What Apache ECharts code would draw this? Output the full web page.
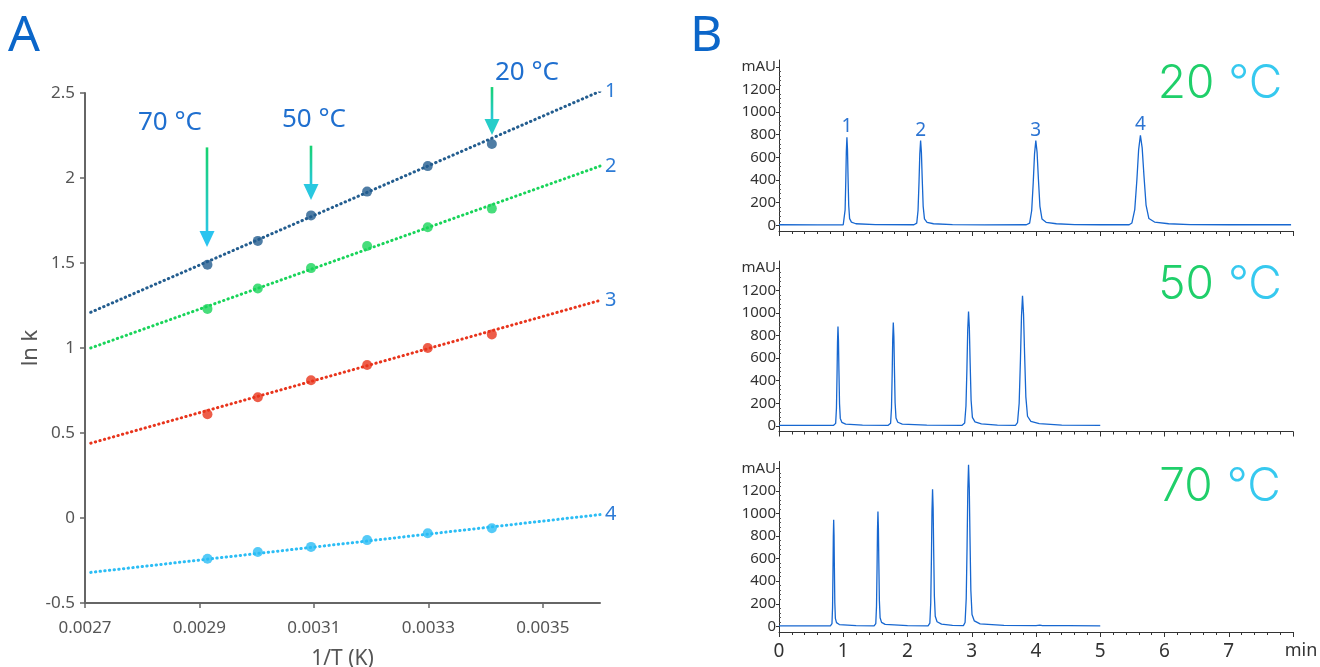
<!DOCTYPE html>
<html><head><meta charset="utf-8">
<script src="https://cdn.jsdelivr.net/npm/echarts@6/dist/echarts.min.js"></script>
<style>html,body{margin:0;padding:0;background:#fff}#c{width:1320px;height:667px}</style>
</head><body><div id="c"></div>
<script>
// ---------- Panel A data: ln k vs 1/T ----------
const invT = [0.002914, 0.003002, 0.003095, 0.003193, 0.003299, 0.003411];
const lnk1 = [1.49, 1.63, 1.78, 1.92, 2.07, 2.20];
const lnk2 = [1.23, 1.35, 1.47, 1.60, 1.71, 1.82];
const lnk3 = [0.61, 0.71, 0.81, 0.90, 1.00, 1.08];
const lnk4 = [-0.24, -0.20, -0.17, -0.13, -0.09, -0.06];
const fitX = [0.00271, 0.0036];
const fit1 = [1.21, 2.51];
const fit2 = [1.00, 2.07];
const fit3 = [0.44, 1.28];
const fit4 = [-0.32, 0.02];
const xTicksA = [0.0027, 0.0029, 0.0031, 0.0033, 0.0035];
const compoundNames = ['1', '2', '3', '4'];
const arrowText = ['70 °C', '50 °C', '20 °C'];
const arrowX = [0.002914, 0.003095, 0.003411];
const arrowTop = [2.18, 2.19, 2.535];
const arrowTip = [1.594, 1.87, 2.253];

// ---------- Panel B data: chromatograms [min, mAU] ----------
const tempLabels = ['20', '50', '70'];
const trace20 = [
 [0,5],[0.6,4],[1.0,5],
 [1.015,20],[1.029,136],[1.0395,392],[1.048,654],[1.057,778],[1.066,670],[1.0745,430],[1.085,175],[1.099,59],[1.127,28],[1.197,14],
 [1.5,6],[2.1,5],
 [2.144,20],[2.164,131],[2.179,377],[2.1915,629],[2.204,748],[2.2165,644],[2.229,414],[2.244,168],[2.264,57],[2.304,27],[2.404,14],
 [2.7,6],[3.2,4],[3.85,5],
 [3.901,20],[3.933,131],[3.957,377],[3.977,629],[3.997,748],[4.017,644],[4.037,414],[4.061,168],[4.093,57],[4.157,27],[4.317,14],
 [4.6,6],[5.0,5],[5.45,5],
 [5.493,21],[5.537,139],[5.570,400],[5.5975,669],[5.625,795],[5.6525,684],[5.680,440],[5.713,179],[5.757,60],[5.845,29],[6.065,14],
 [6.4,6],[7.0,5],[7.97,5]
];
const trace50 = [
 [0,5],[0.5,5],[0.85,5],
 [0.882,22],[0.894,154],[0.903,442],[0.9105,739],[0.918,879],[0.9255,757],[0.933,486],[0.942,197],[0.954,66],[0.978,31],[1.038,15],
 [1.3,6],[1.7,5],
 [1.737,23],[1.751,160],[1.7615,460],[1.770,769],[1.779,915],[1.788,788],[1.7965,506],[1.807,205],[1.821,69],[1.849,32],[1.919,16],
 [2.3,6],[2.85,5],
 [2.89,25],[2.91,176],[2.925,509],[2.9375,851],[2.95,1012],[2.9625,871],[2.975,559],[2.99,227],[3.01,75],[3.05,35],[3.15,17],
 [3.4,6],[3.68,5],
 [3.712,28],[3.738,200],[3.7575,578],[3.774,968],[3.79,1151],[3.806,991],[3.8225,635],[3.842,257],[3.868,85],[3.92,39],[4.05,19],
 [4.4,6],[5.0,5]
];
const trace70 = [
 [0,5],[0.5,5],[0.8,5],
 [0.8246,24],[0.8334,164],[0.840,474],[0.8455,793],[0.851,943],[0.8565,812],[0.862,521],[0.8686,211],[0.8774,71],[0.895,33],[0.939,16],
 [1.2,6],[1.48,5],
 [1.5064,25],[1.5176,177],[1.526,511],[1.533,854],[1.54,1016],[1.547,874],[1.554,561],[1.5624,227],[1.5736,76],[1.596,35],[1.652,17],
 [2.0,6],[2.32,5],
 [2.348,29],[2.362,211],[2.3725,610],[2.381,1021],[2.39,1215],[2.399,1046],[2.4075,671],[2.418,271],[2.432,90],[2.46,41],[2.53,20],
 [2.7,8],[2.87,7],
 [2.896,34],[2.914,247],[2.9275,718],[2.93875,1202],[2.95,1430],[2.96125,1231],[2.9725,789],[2.986,319],[3.004,105],[3.04,48],[3.13,22],
 [3.5,9],[4.0,7],[4.06,10],[4.1,7],[4.5,6],[5.0,5]
];
const peakLabelT = [1.057, 2.204, 3.997, 5.625];
const peakLabelH = [778, 748, 748, 795];
const mauTicks = [0, 200, 400, 600, 800, 1000, 1200, 1400];

// ---------- styles ----------
const colA = ['#235d8f', '#19d45a', '#e8341c', '#2bbdf5'];
const font = "'Noto Sans', 'Open Sans', sans-serif";
const blue = '#1f6fcf';

const chart = echarts.init(document.getElementById('c'), null, {renderer: 'canvas'});

const lnks = [lnk1, lnk2, lnk3, lnk4];
const fits = [fit1, fit2, fit3, fit4];
const traces = [trace20, trace50, trace70];

const minorVals = [];
for (let v = 0; v <= 1400; v += 40) if (v % 200 !== 0) minorVals.push(v);

const grids = [
  {left: 85, top: 93, width: 515, height: 510, outerBoundsMode: 'none', containLabel: false},
  {left: 779, top: 60, width: 514, height: 171, outerBoundsMode: 'none', containLabel: false},
  {left: 779, top: 261, width: 514, height: 170.5, outerBoundsMode: 'none', containLabel: false},
  {left: 779, top: 461.5, width: 514, height: 170.5, outerBoundsMode: 'none', containLabel: false}
];

const xAxes = [{
  gridIndex: 0, type: 'value', min: 0.0027, max: 0.0036,
  name: '1/T (K)', nameLocation: 'middle', nameGap: 46,
  nameTextStyle: {fontSize: 21, color: '#555', fontFamily: font},
  axisLine: {onZero: false, lineStyle: {color: '#666', width: 2}},
  axisTick: {customValues: xTicksA, length: 5, lineStyle: {color: '#666', width: 1.5}},
  axisLabel: {customValues: xTicksA, formatter: v => v.toFixed(4), fontSize: 17, color: '#555', fontFamily: font, margin: 17},
  splitLine: {show: false}
}];
const yAxes = [{
  gridIndex: 0, type: 'value', min: -0.5, max: 2.5, interval: 0.5,
  name: 'ln k', nameLocation: 'middle', nameGap: 36, nameRotate: 90,
  nameTextStyle: {fontSize: 22, color: '#555', fontFamily: font},
  axisLine: {show: true, onZero: false, lineStyle: {color: '#666', width: 2}},
  axisTick: {show: true, length: 5, lineStyle: {color: '#666', width: 1.5}},
  axisLabel: {fontSize: 17, color: '#555', fontFamily: font, margin: 10},
  splitLine: {show: false}
}];
for (let g = 1; g <= 3; g++) {
  xAxes.push({
    gridIndex: g, type: 'value', min: 0, max: 8, interval: 1,
    axisLine: {onZero: false, lineStyle: {color: '#333', width: 1}},
    axisTick: {length: 5, lineStyle: {color: '#333'}},
    minorTick: {show: true, splitNumber: 5, length: 3, lineStyle: {color: '#333'}},
    axisLabel: {show: g === 3, fontSize: 19, color: '#333', fontFamily: font, margin: 10,
      formatter: v => v === 8 ? '{m|min}' : String(v),
      rich: {m: {fontSize: 18, color: '#333', fontFamily: font, padding: [0, 0, 0, 16]}}},
    splitLine: {show: false}
  });
  yAxes.push({
    gridIndex: g, type: 'value', min: -50, max: 1460,
    axisLine: {show: true, onZero: false, lineStyle: {color: '#333', width: 1}},
    axisTick: {show: true, customValues: mauTicks, length: 3, lineStyle: {color: '#333'}},
    axisLabel: {customValues: mauTicks, formatter: v => v === 1400 ? 'mAU' : String(v),
      fontSize: 15, color: '#333', fontFamily: font, margin: 3},
    splitLine: {show: false}
  });
}
for (let g = 1; g <= 3; g++) {
  yAxes.push({
    gridIndex: g, type: 'value', min: -50, max: 1460,
    axisLine: {show: false}, axisLabel: {show: false}, splitLine: {show: false},
    axisTick: {show: true, customValues: minorVals, length: 2, lineStyle: {color: '#555'}}
  });
}

const series = [];
for (let i = 0; i < 4; i++) {
  series.push({
    type: 'line', xAxisIndex: 0, yAxisIndex: 0, symbol: 'none', silent: true,
    data: fitX.map((x, k) => [x, fits[i][k]]),
    lineStyle: {color: colA[i], width: 3, type: [0.4, 4.3], cap: 'round'},
    endLabel: {show: true, formatter: compoundNames[i], color: '#2d7bd6', fontSize: 20, fontFamily: font, distance: 5},
    z: 2
  });
  series.push({
    type: 'scatter', xAxisIndex: 0, yAxisIndex: 0, symbol: 'circle', symbolSize: 10,
    data: invT.map((x, k) => [x, lnks[i][k]]),
    itemStyle: {color: colA[i]}, z: 3
  });
}
traces.forEach((tr, j) => {
  const s = {
    type: 'line', xAxisIndex: j + 1, yAxisIndex: j + 1, symbol: 'none',
    data: tr, lineStyle: {color: '#1767d0', width: 1.3}, z: 2
  };
  if (j === 0) {
    s.markPoint = {
      symbol: 'circle', symbolSize: 0, silent: true,
      label: {show: true, position: 'top', distance: 1, color: '#2c74d2', fontSize: 19, fontFamily: font,
        formatter: p => p.name},
      data: peakLabelT.map((t, k) => ({name: compoundNames[k], coord: [t, peakLabelH[k]]}))
    };
  }
  series.push(s);
});

const bigFont = "Inter, 'Open Sans', sans-serif";
const graphic = [
  {type: 'text', left: 8, top: 12, style: {text: 'A', fontSize: 50, fill: '#0b66c9', fontFamily: font}},
  {type: 'text', left: 690, top: 12, style: {text: 'B', fontSize: 50, fill: '#0b66c9', fontFamily: font}}
];
const tempY = [84, 285, 487];
tempLabels.forEach((t, j) => {
  graphic.push({
    type: 'text', x: 1220, y: tempY[j],
    style: {
      text: '{g|' + t + '}{s|}{c|°C}', align: 'center', verticalAlign: 'middle',
      rich: {
        g: {fontSize: 46, fill: '#1fcf6a', fontFamily: bigFont, fontWeight: 300},
        s: {width: 14},
        c: {fontSize: 46, fill: '#36c9ef', fontFamily: bigFont, fontWeight: 300}
      }
    }
  });
});

chart.setOption({
  animation: false,
  backgroundColor: '#fff',
  grid: grids,
  xAxis: xAxes,
  yAxis: yAxes,
  series: series,
  graphic: graphic
});

// arrows + annotation labels positioned through the chart's own scales
const textOffset = [[-37, -25], [3, -26], [35, -14]];
const extra = [];
arrowX.forEach((x, i) => {
  const pTop = chart.convertToPixel({gridIndex: 0}, [x, arrowTop[i]]);
  const pTip = chart.convertToPixel({gridIndex: 0}, [x, arrowTip[i]]);
  const px = Math.round(pTop[0]);
  extra.push({
    type: 'line', silent: true,
    shape: {x1: px, y1: pTop[1], x2: px, y2: pTip[1] - 14},
    style: {lineWidth: 2.6, stroke: new echarts.graphic.LinearGradient(0, 0, 0, 1,
      [{offset: 0, color: '#16d36a'}, {offset: 1, color: '#29c6e8'}])}
  });
  extra.push({
    type: 'polygon', silent: true,
    shape: {points: [[px - 7.5, pTip[1] - 16], [px + 7.5, pTip[1] - 16], [px, pTip[1]]]},
    style: {fill: i === 2 ? '#26cdc9' : (i === 1 ? '#29c8e0' : '#2bc4ef')}
  });
  extra.push({
    type: 'text', silent: true, x: px + textOffset[i][0], y: pTop[1] + textOffset[i][1],
    style: {text: arrowText[i], align: 'center', verticalAlign: 'middle', fontSize: 26, fill: blue, fontFamily: font}
  });
});
chart.setOption({graphic: graphic.concat(extra)});
</script></body></html>
